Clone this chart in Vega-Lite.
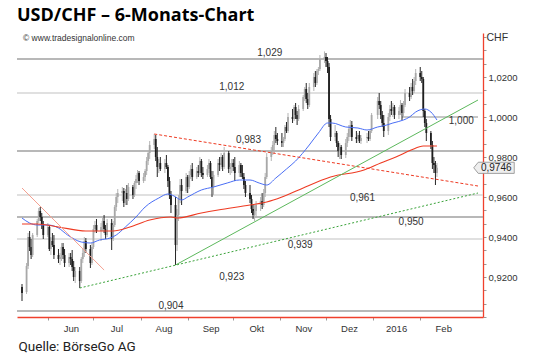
{
  "$schema": "https://vega.github.io/schema/vega-lite/v6.json",
  "width": 466,
  "height": 284,
  "autosize": "none",
  "padding": {"left": 17, "top": 33, "right": 57, "bottom": 43},
  "background": "white",
  "config": {
    "view": {"stroke": null},
    "locale": {"number": {"decimal": ",", "thousands": ".", "grouping": [3], "currency": ["", " €"]}}
  },
  "title": {"text": "USD/CHF – 6-Monats-Chart", "anchor": "start", "frame": "group", "font": "Open Sans", "fontSize": 18, "fontWeight": "bold", "color": "#000000", "offset": 7},
  "datasets": {
    "kerzen": [
      {"d":"2015-05-15","o":0.9150,"h":0.9165,"l":0.9080,"c":0.9120},
      {"d":"2015-05-18","o":0.9125,"h":0.9270,"l":0.9115,"c":0.9255},
      {"d":"2015-05-19","o":0.9255,"h":0.9420,"l":0.9240,"c":0.9400},
      {"d":"2015-05-20","o":0.9400,"h":0.9430,"l":0.9330,"c":0.9350},
      {"d":"2015-05-21","o":0.9350,"h":0.9390,"l":0.9290,"c":0.9310},
      {"d":"2015-05-22","o":0.9310,"h":0.9420,"l":0.9300,"c":0.9410},
      {"d":"2015-05-25","o":0.9410,"h":0.9490,"l":0.9400,"c":0.9480},
      {"d":"2015-05-26","o":0.9480,"h":0.9545,"l":0.9470,"c":0.9530},
      {"d":"2015-05-27","o":0.9530,"h":0.9550,"l":0.9480,"c":0.9500},
      {"d":"2015-05-28","o":0.9500,"h":0.9520,"l":0.9440,"c":0.9460},
      {"d":"2015-05-29","o":0.9460,"h":0.9480,"l":0.9390,"c":0.9410},
      {"d":"2015-06-01","o":0.9410,"h":0.9470,"l":0.9400,"c":0.9450},
      {"d":"2015-06-02","o":0.9450,"h":0.9460,"l":0.9330,"c":0.9340},
      {"d":"2015-06-03","o":0.9340,"h":0.9400,"l":0.9310,"c":0.9380},
      {"d":"2015-06-04","o":0.9380,"h":0.9420,"l":0.9350,"c":0.9360},
      {"d":"2015-06-05","o":0.9360,"h":0.9410,"l":0.9290,"c":0.9310},
      {"d":"2015-06-08","o":0.9310,"h":0.9340,"l":0.9270,"c":0.9290},
      {"d":"2015-06-09","o":0.9290,"h":0.9320,"l":0.9260,"c":0.9300},
      {"d":"2015-06-10","o":0.9300,"h":0.9370,"l":0.9280,"c":0.9350},
      {"d":"2015-06-11","o":0.9350,"h":0.9370,"l":0.9290,"c":0.9310},
      {"d":"2015-06-12","o":0.9310,"h":0.9340,"l":0.9250,"c":0.9270},
      {"d":"2015-06-15","o":0.9270,"h":0.9320,"l":0.9250,"c":0.9300},
      {"d":"2015-06-16","o":0.9300,"h":0.9320,"l":0.9260,"c":0.9290},
      {"d":"2015-06-17","o":0.9290,"h":0.9335,"l":0.9230,"c":0.9250},
      {"d":"2015-06-18","o":0.9250,"h":0.9280,"l":0.9180,"c":0.9200},
      {"d":"2015-06-19","o":0.9200,"h":0.9250,"l":0.9170,"c":0.9230},
      {"d":"2015-06-22","o":0.9230,"h":0.9250,"l":0.9145,"c":0.9180},
      {"d":"2015-06-23","o":0.9180,"h":0.9300,"l":0.9170,"c":0.9290},
      {"d":"2015-06-24","o":0.9290,"h":0.9340,"l":0.9270,"c":0.9320},
      {"d":"2015-06-25","o":0.9320,"h":0.9400,"l":0.9300,"c":0.9380},
      {"d":"2015-06-26","o":0.9380,"h":0.9395,"l":0.9320,"c":0.9340},
      {"d":"2015-06-29","o":0.9340,"h":0.9360,"l":0.9245,"c":0.9270},
      {"d":"2015-06-30","o":0.9270,"h":0.9370,"l":0.9260,"c":0.9350},
      {"d":"2015-07-01","o":0.9350,"h":0.9460,"l":0.9340,"c":0.9440},
      {"d":"2015-07-02","o":0.9440,"h":0.9480,"l":0.9420,"c":0.9460},
      {"d":"2015-07-03","o":0.9460,"h":0.9490,"l":0.9420,"c":0.9430},
      {"d":"2015-07-06","o":0.9430,"h":0.9470,"l":0.9380,"c":0.9450},
      {"d":"2015-07-07","o":0.9450,"h":0.9495,"l":0.9430,"c":0.9480},
      {"d":"2015-07-08","o":0.9480,"h":0.9510,"l":0.9420,"c":0.9440},
      {"d":"2015-07-09","o":0.9440,"h":0.9460,"l":0.9390,"c":0.9410},
      {"d":"2015-07-10","o":0.9410,"h":0.9490,"l":0.9400,"c":0.9470},
      {"d":"2015-07-13","o":0.9470,"h":0.9490,"l":0.9335,"c":0.9390},
      {"d":"2015-07-14","o":0.9390,"h":0.9480,"l":0.9380,"c":0.9460},
      {"d":"2015-07-15","o":0.9460,"h":0.9560,"l":0.9450,"c":0.9550},
      {"d":"2015-07-16","o":0.9550,"h":0.9620,"l":0.9530,"c":0.9600},
      {"d":"2015-07-17","o":0.9600,"h":0.9640,"l":0.9570,"c":0.9620},
      {"d":"2015-07-20","o":0.9620,"h":0.9650,"l":0.9580,"c":0.9630},
      {"d":"2015-07-21","o":0.9630,"h":0.9645,"l":0.9550,"c":0.9570},
      {"d":"2015-07-22","o":0.9570,"h":0.9640,"l":0.9560,"c":0.9620},
      {"d":"2015-07-23","o":0.9620,"h":0.9660,"l":0.9560,"c":0.9590},
      {"d":"2015-07-24","o":0.9590,"h":0.9670,"l":0.9580,"c":0.9650},
      {"d":"2015-07-27","o":0.9650,"h":0.9660,"l":0.9590,"c":0.9610},
      {"d":"2015-07-28","o":0.9610,"h":0.9680,"l":0.9600,"c":0.9670},
      {"d":"2015-07-29","o":0.9670,"h":0.9710,"l":0.9640,"c":0.9690},
      {"d":"2015-07-30","o":0.9690,"h":0.9735,"l":0.9670,"c":0.9720},
      {"d":"2015-07-31","o":0.9720,"h":0.9730,"l":0.9660,"c":0.9680},
      {"d":"2015-08-03","o":0.9680,"h":0.9720,"l":0.9670,"c":0.9700},
      {"d":"2015-08-04","o":0.9700,"h":0.9740,"l":0.9680,"c":0.9730},
      {"d":"2015-08-05","o":0.9730,"h":0.9800,"l":0.9710,"c":0.9780},
      {"d":"2015-08-06","o":0.9780,"h":0.9830,"l":0.9760,"c":0.9820},
      {"d":"2015-08-07","o":0.9820,"h":0.9880,"l":0.9790,"c":0.9860},
      {"d":"2015-08-10","o":0.9860,"h":0.9915,"l":0.9840,"c":0.9890},
      {"d":"2015-08-11","o":0.9890,"h":0.9910,"l":0.9780,"c":0.9800},
      {"d":"2015-08-12","o":0.9800,"h":0.9850,"l":0.9700,"c":0.9750},
      {"d":"2015-08-13","o":0.9750,"h":0.9790,"l":0.9720,"c":0.9770},
      {"d":"2015-08-14","o":0.9770,"h":0.9800,"l":0.9730,"c":0.9740},
      {"d":"2015-08-17","o":0.9740,"h":0.9790,"l":0.9720,"c":0.9770},
      {"d":"2015-08-18","o":0.9770,"h":0.9810,"l":0.9740,"c":0.9750},
      {"d":"2015-08-19","o":0.9750,"h":0.9760,"l":0.9650,"c":0.9680},
      {"d":"2015-08-20","o":0.9680,"h":0.9700,"l":0.9590,"c":0.9610},
      {"d":"2015-08-21","o":0.9610,"h":0.9630,"l":0.9520,"c":0.9560},
      {"d":"2015-08-24","o":0.9560,"h":0.9600,"l":0.9260,"c":0.9360},
      {"d":"2015-08-25","o":0.9360,"h":0.9540,"l":0.9330,"c":0.9510},
      {"d":"2015-08-26","o":0.9510,"h":0.9610,"l":0.9480,"c":0.9590},
      {"d":"2015-08-27","o":0.9590,"h":0.9690,"l":0.9570,"c":0.9660},
      {"d":"2015-08-28","o":0.9660,"h":0.9690,"l":0.9560,"c":0.9630},
      {"d":"2015-08-31","o":0.9630,"h":0.9720,"l":0.9620,"c":0.9700},
      {"d":"2015-09-01","o":0.9700,"h":0.9710,"l":0.9620,"c":0.9650},
      {"d":"2015-09-02","o":0.9650,"h":0.9730,"l":0.9640,"c":0.9710},
      {"d":"2015-09-03","o":0.9710,"h":0.9760,"l":0.9690,"c":0.9740},
      {"d":"2015-09-04","o":0.9740,"h":0.9770,"l":0.9680,"c":0.9700},
      {"d":"2015-09-07","o":0.9700,"h":0.9750,"l":0.9690,"c":0.9730},
      {"d":"2015-09-08","o":0.9730,"h":0.9760,"l":0.9700,"c":0.9720},
      {"d":"2015-09-09","o":0.9720,"h":0.9800,"l":0.9710,"c":0.9780},
      {"d":"2015-09-10","o":0.9780,"h":0.9790,"l":0.9700,"c":0.9720},
      {"d":"2015-09-11","o":0.9720,"h":0.9750,"l":0.9690,"c":0.9710},
      {"d":"2015-09-14","o":0.9710,"h":0.9760,"l":0.9700,"c":0.9740},
      {"d":"2015-09-15","o":0.9740,"h":0.9790,"l":0.9720,"c":0.9770},
      {"d":"2015-09-16","o":0.9770,"h":0.9780,"l":0.9690,"c":0.9700},
      {"d":"2015-09-17","o":0.9700,"h":0.9730,"l":0.9600,"c":0.9650},
      {"d":"2015-09-18","o":0.9650,"h":0.9730,"l":0.9610,"c":0.9710},
      {"d":"2015-09-21","o":0.9710,"h":0.9790,"l":0.9700,"c":0.9770},
      {"d":"2015-09-22","o":0.9770,"h":0.9800,"l":0.9730,"c":0.9760},
      {"d":"2015-09-23","o":0.9760,"h":0.9820,"l":0.9740,"c":0.9800},
      {"d":"2015-09-24","o":0.9800,"h":0.9810,"l":0.9730,"c":0.9750},
      {"d":"2015-09-25","o":0.9750,"h":0.9850,"l":0.9740,"c":0.9820},
      {"d":"2015-09-28","o":0.9820,"h":0.9830,"l":0.9720,"c":0.9740},
      {"d":"2015-09-29","o":0.9740,"h":0.9770,"l":0.9710,"c":0.9750},
      {"d":"2015-09-30","o":0.9750,"h":0.9790,"l":0.9720,"c":0.9770},
      {"d":"2015-10-01","o":0.9770,"h":0.9790,"l":0.9730,"c":0.9750},
      {"d":"2015-10-02","o":0.9750,"h":0.9800,"l":0.9680,"c":0.9720},
      {"d":"2015-10-05","o":0.9720,"h":0.9780,"l":0.9700,"c":0.9760},
      {"d":"2015-10-06","o":0.9760,"h":0.9770,"l":0.9700,"c":0.9720},
      {"d":"2015-10-07","o":0.9720,"h":0.9760,"l":0.9690,"c":0.9700},
      {"d":"2015-10-08","o":0.9700,"h":0.9720,"l":0.9640,"c":0.9660},
      {"d":"2015-10-09","o":0.9660,"h":0.9680,"l":0.9600,"c":0.9620},
      {"d":"2015-10-12","o":0.9620,"h":0.9660,"l":0.9570,"c":0.9590},
      {"d":"2015-10-13","o":0.9590,"h":0.9610,"l":0.9520,"c":0.9540},
      {"d":"2015-10-14","o":0.9540,"h":0.9560,"l":0.9490,"c":0.9510},
      {"d":"2015-10-15","o":0.9510,"h":0.9560,"l":0.9480,"c":0.9530},
      {"d":"2015-10-16","o":0.9530,"h":0.9580,"l":0.9500,"c":0.9560},
      {"d":"2015-10-19","o":0.9560,"h":0.9600,"l":0.9530,"c":0.9580},
      {"d":"2015-10-20","o":0.9580,"h":0.9620,"l":0.9540,"c":0.9560},
      {"d":"2015-10-21","o":0.9560,"h":0.9640,"l":0.9550,"c":0.9620},
      {"d":"2015-10-22","o":0.9620,"h":0.9720,"l":0.9600,"c":0.9700},
      {"d":"2015-10-23","o":0.9700,"h":0.9820,"l":0.9690,"c":0.9800},
      {"d":"2015-10-26","o":0.9800,"h":0.9850,"l":0.9780,"c":0.9830},
      {"d":"2015-10-27","o":0.9830,"h":0.9880,"l":0.9810,"c":0.9860},
      {"d":"2015-10-28","o":0.9860,"h":0.9930,"l":0.9820,"c":0.9910},
      {"d":"2015-10-29","o":0.9910,"h":0.9950,"l":0.9870,"c":0.9890},
      {"d":"2015-10-30","o":0.9890,"h":0.9920,"l":0.9860,"c":0.9880},
      {"d":"2015-11-02","o":0.9880,"h":0.9920,"l":0.9850,"c":0.9870},
      {"d":"2015-11-03","o":0.9870,"h":0.9900,"l":0.9850,"c":0.9890},
      {"d":"2015-11-04","o":0.9890,"h":0.9960,"l":0.9880,"c":0.9950},
      {"d":"2015-11-05","o":0.9950,"h":0.9975,"l":0.9920,"c":0.9930},
      {"d":"2015-11-06","o":0.9930,"h":1.0020,"l":0.9920,"c":1.0000},
      {"d":"2015-11-09","o":1.0000,"h":1.0040,"l":0.9970,"c":0.9990},
      {"d":"2015-11-10","o":0.9990,"h":1.0060,"l":0.9980,"c":1.0050},
      {"d":"2015-11-11","o":1.0050,"h":1.0070,"l":0.9990,"c":1.0010},
      {"d":"2015-11-12","o":1.0010,"h":1.0030,"l":0.9960,"c":0.9990},
      {"d":"2015-11-13","o":0.9990,"h":1.0060,"l":0.9980,"c":1.0040},
      {"d":"2015-11-16","o":1.0040,"h":1.0110,"l":1.0030,"c":1.0100},
      {"d":"2015-11-17","o":1.0100,"h":1.0150,"l":1.0080,"c":1.0140},
      {"d":"2015-11-18","o":1.0140,"h":1.0170,"l":1.0070,"c":1.0090},
      {"d":"2015-11-19","o":1.0090,"h":1.0120,"l":1.0040,"c":1.0060},
      {"d":"2015-11-20","o":1.0060,"h":1.0170,"l":1.0050,"c":1.0150},
      {"d":"2015-11-23","o":1.0150,"h":1.0220,"l":1.0130,"c":1.0200},
      {"d":"2015-11-24","o":1.0200,"h":1.0230,"l":1.0150,"c":1.0170},
      {"d":"2015-11-25","o":1.0170,"h":1.0240,"l":1.0160,"c":1.0230},
      {"d":"2015-11-26","o":1.0230,"h":1.0250,"l":1.0210,"c":1.0240},
      {"d":"2015-11-27","o":1.0240,"h":1.0310,"l":1.0230,"c":1.0290},
      {"d":"2015-11-30","o":1.0290,"h":1.0328,"l":1.0270,"c":1.0300},
      {"d":"2015-12-01","o":1.0300,"h":1.0320,"l":1.0250,"c":1.0280},
      {"d":"2015-12-02","o":1.0280,"h":1.0300,"l":1.0220,"c":1.0250},
      {"d":"2015-12-03","o":1.0250,"h":1.0270,"l":0.9950,"c":0.9990},
      {"d":"2015-12-04","o":0.9990,"h":1.0010,"l":0.9880,"c":0.9900},
      {"d":"2015-12-07","o":0.9900,"h":0.9960,"l":0.9880,"c":0.9920},
      {"d":"2015-12-08","o":0.9920,"h":0.9930,"l":0.9850,"c":0.9870},
      {"d":"2015-12-09","o":0.9870,"h":0.9880,"l":0.9800,"c":0.9830},
      {"d":"2015-12-10","o":0.9830,"h":0.9870,"l":0.9790,"c":0.9850},
      {"d":"2015-12-11","o":0.9850,"h":0.9860,"l":0.9790,"c":0.9810},
      {"d":"2015-12-14","o":0.9810,"h":0.9890,"l":0.9795,"c":0.9870},
      {"d":"2015-12-15","o":0.9870,"h":0.9920,"l":0.9850,"c":0.9900},
      {"d":"2015-12-16","o":0.9900,"h":0.9960,"l":0.9880,"c":0.9940},
      {"d":"2015-12-17","o":0.9940,"h":0.9985,"l":0.9900,"c":0.9960},
      {"d":"2015-12-18","o":0.9960,"h":0.9980,"l":0.9880,"c":0.9900},
      {"d":"2015-12-21","o":0.9900,"h":0.9930,"l":0.9870,"c":0.9890},
      {"d":"2015-12-22","o":0.9890,"h":0.9920,"l":0.9870,"c":0.9910},
      {"d":"2015-12-23","o":0.9910,"h":0.9930,"l":0.9870,"c":0.9880},
      {"d":"2015-12-24","o":0.9880,"h":0.9910,"l":0.9865,"c":0.9895},
      {"d":"2015-12-28","o":0.9895,"h":0.9920,"l":0.9870,"c":0.9900},
      {"d":"2015-12-29","o":0.9900,"h":0.9930,"l":0.9880,"c":0.9890},
      {"d":"2015-12-30","o":0.9890,"h":0.9940,"l":0.9880,"c":0.9930},
      {"d":"2015-12-31","o":0.9930,"h":1.0020,"l":0.9920,"c":1.0010},
      {"d":"2016-01-04","o":1.0010,"h":1.0100,"l":0.9990,"c":1.0080},
      {"d":"2016-01-05","o":1.0080,"h":1.0120,"l":1.0040,"c":1.0060},
      {"d":"2016-01-06","o":1.0060,"h":1.0080,"l":0.9990,"c":1.0010},
      {"d":"2016-01-07","o":1.0010,"h":1.0030,"l":0.9950,"c":0.9970},
      {"d":"2016-01-08","o":0.9970,"h":1.0010,"l":0.9900,"c":0.9930},
      {"d":"2016-01-11","o":0.9930,"h":1.0020,"l":0.9910,"c":1.0000},
      {"d":"2016-01-12","o":1.0000,"h":1.0060,"l":0.9980,"c":1.0040},
      {"d":"2016-01-13","o":1.0040,"h":1.0080,"l":1.0010,"c":1.0030},
      {"d":"2016-01-14","o":1.0030,"h":1.0070,"l":1.0000,"c":1.0050},
      {"d":"2016-01-15","o":1.0050,"h":1.0060,"l":0.9990,"c":1.0010},
      {"d":"2016-01-18","o":1.0010,"h":1.0050,"l":0.9990,"c":1.0030},
      {"d":"2016-01-19","o":1.0030,"h":1.0085,"l":1.0010,"c":1.0060},
      {"d":"2016-01-20","o":1.0060,"h":1.0070,"l":0.9985,"c":1.0020},
      {"d":"2016-01-21","o":1.0020,"h":1.0080,"l":1.0000,"c":1.0060},
      {"d":"2016-01-22","o":1.0060,"h":1.0140,"l":1.0050,"c":1.0120},
      {"d":"2016-01-25","o":1.0120,"h":1.0150,"l":1.0080,"c":1.0100},
      {"d":"2016-01-26","o":1.0100,"h":1.0170,"l":1.0090,"c":1.0150},
      {"d":"2016-01-27","o":1.0150,"h":1.0190,"l":1.0110,"c":1.0130},
      {"d":"2016-01-28","o":1.0130,"h":1.0200,"l":1.0120,"c":1.0180},
      {"d":"2016-01-29","o":1.0180,"h":1.0240,"l":1.0160,"c":1.0220},
      {"d":"2016-02-01","o":1.0220,"h":1.0250,"l":1.0180,"c":1.0200},
      {"d":"2016-02-02","o":1.0200,"h":1.0230,"l":1.0170,"c":1.0190},
      {"d":"2016-02-03","o":1.0190,"h":1.0200,"l":1.0000,"c":1.0030},
      {"d":"2016-02-04","o":1.0030,"h":1.0040,"l":0.9950,"c":0.9970},
      {"d":"2016-02-05","o":0.9970,"h":0.9990,"l":0.9880,"c":0.9920},
      {"d":"2016-02-08","o":0.9920,"h":0.9930,"l":0.9840,"c":0.9860},
      {"d":"2016-02-09","o":0.9860,"h":0.9880,"l":0.9740,"c":0.9770},
      {"d":"2016-02-10","o":0.9770,"h":0.9800,"l":0.9720,"c":0.9760},
      {"d":"2016-02-11","o":0.9760,"h":0.9780,"l":0.9660,"c":0.9720},
      {"d":"2016-02-12","o":0.9720,"h":0.9770,"l":0.9700,"c":0.9746}
    ],
    "durchschnitte": [
      {"ma":"blau","d":"2015-05-15","v":0.9495},{"ma":"blau","d":"2015-05-20","v":0.9470},
      {"ma":"blau","d":"2015-05-25","v":0.9460},{"ma":"blau","d":"2015-06-01","v":0.9460},
      {"ma":"blau","d":"2015-06-08","v":0.9445},{"ma":"blau","d":"2015-06-14","v":0.9410},
      {"ma":"blau","d":"2015-06-23","v":0.9375},{"ma":"blau","d":"2015-06-29","v":0.9370},
      {"ma":"blau","d":"2015-07-05","v":0.9385},{"ma":"blau","d":"2015-07-12","v":0.9395},
      {"ma":"blau","d":"2015-07-16","v":0.9410},{"ma":"blau","d":"2015-07-22","v":0.9450},
      {"ma":"blau","d":"2015-07-29","v":0.9500},{"ma":"blau","d":"2015-08-04","v":0.9550},
      {"ma":"blau","d":"2015-08-13","v":0.9595},{"ma":"blau","d":"2015-08-19","v":0.9615},
      {"ma":"blau","d":"2015-08-23","v":0.9605},{"ma":"blau","d":"2015-08-28","v":0.9585},
      {"ma":"blau","d":"2015-09-01","v":0.9600},{"ma":"blau","d":"2015-09-10","v":0.9635},
      {"ma":"blau","d":"2015-09-18","v":0.9650},{"ma":"blau","d":"2015-09-27","v":0.9670},
      {"ma":"blau","d":"2015-10-05","v":0.9685},{"ma":"blau","d":"2015-10-12","v":0.9685},
      {"ma":"blau","d":"2015-10-18","v":0.9670},{"ma":"blau","d":"2015-10-23","v":0.9660},
      {"ma":"blau","d":"2015-10-29","v":0.9695},{"ma":"blau","d":"2015-11-05","v":0.9740},
      {"ma":"blau","d":"2015-11-11","v":0.9780},{"ma":"blau","d":"2015-11-20","v":0.9860},
      {"ma":"blau","d":"2015-11-26","v":0.9920},{"ma":"blau","d":"2015-12-02","v":0.9970},
      {"ma":"blau","d":"2015-12-05","v":0.9970},{"ma":"blau","d":"2015-12-14","v":0.9950},
      {"ma":"blau","d":"2015-12-22","v":0.9945},{"ma":"blau","d":"2015-12-28","v":0.9935},
      {"ma":"blau","d":"2016-01-04","v":0.9950},{"ma":"blau","d":"2016-01-10","v":0.9960},
      {"ma":"blau","d":"2016-01-14","v":0.9970},{"ma":"blau","d":"2016-01-21","v":0.9985},
      {"ma":"blau","d":"2016-01-25","v":1.0000},{"ma":"blau","d":"2016-01-29","v":1.0025},
      {"ma":"blau","d":"2016-02-04","v":1.0040},{"ma":"blau","d":"2016-02-08","v":1.0025},
      {"ma":"blau","d":"2016-02-12","v":0.9985},
      {"ma":"rot","d":"2015-05-15","v":0.9465},{"ma":"rot","d":"2015-05-25","v":0.9465},
      {"ma":"rot","d":"2015-06-08","v":0.9450},{"ma":"rot","d":"2015-06-26","v":0.9430},
      {"ma":"rot","d":"2015-07-14","v":0.9430},{"ma":"rot","d":"2015-07-25","v":0.9450},
      {"ma":"rot","d":"2015-08-07","v":0.9485},{"ma":"rot","d":"2015-08-21","v":0.9500},
      {"ma":"rot","d":"2015-08-25","v":0.9495},{"ma":"rot","d":"2015-09-10","v":0.9520},
      {"ma":"rot","d":"2015-09-21","v":0.9535},{"ma":"rot","d":"2015-10-12","v":0.9560},
      {"ma":"rot","d":"2015-10-23","v":0.9575},{"ma":"rot","d":"2015-11-02","v":0.9600},
      {"ma":"rot","d":"2015-11-13","v":0.9635},{"ma":"rot","d":"2015-12-04","v":0.9700},
      {"ma":"rot","d":"2015-12-26","v":0.9735},{"ma":"rot","d":"2016-01-06","v":0.9770},
      {"ma":"rot","d":"2016-01-16","v":0.9800},{"ma":"rot","d":"2016-01-26","v":0.9835},
      {"ma":"rot","d":"2016-02-03","v":0.9855},{"ma":"rot","d":"2016-02-12","v":0.9855}
    ],
    "trends": [
      {"linie":"rot1","d":"2015-05-15","v":0.9645},{"linie":"rot1","d":"2015-07-08","v":0.9235},
      {"linie":"rot2","d":"2015-08-10","v":0.9915},{"linie":"rot2","d":"2016-03-10","v":0.9655},
      {"linie":"gruen1","d":"2015-06-22","v":0.9145},{"linie":"gruen1","d":"2016-03-10","v":0.9620},
      {"linie":"gruen2","d":"2015-08-24","v":0.9260},{"linie":"gruen2","d":"2016-03-10","v":1.0085}
    ],
    "niveaus": [
      {"level":1.029,"art":"stark"},{"level":1.012,"art":"schwach"},
      {"level":0.983,"art":"stark"},{"level":0.961,"art":"schwach"},
      {"level":0.950,"art":"stark"},{"level":0.939,"art":"schwach"},
      {"level":0.903,"art":"stark"}
    ],
    "marken": [
      {"d":"2015-10-25","v":1.0320,"t":"1,029"},
      {"d":"2015-09-30","v":1.0148,"t":"1,012"},
      {"d":"2016-02-28","v":0.9978,"t":"1,000"},
      {"d":"2015-10-11","v":0.9885,"t":"0,983"},
      {"d":"2015-12-25","v":0.9593,"t":"0,961"},
      {"d":"2016-01-26","v":0.9475,"t":"0,950"},
      {"d":"2015-11-14","v":0.9358,"t":"0,939"},
      {"d":"2015-09-30","v":0.9200,"t":"0,923"},
      {"d":"2015-08-21","v":0.9055,"t":"0,904"}
    ]
  },
  "encoding": {
    "x": {
      "field": "d", "type": "temporal",
      "scale": {"type": "utc", "domain": [{"year": 2015, "month": 5, "date": 15, "utc": true}, {"year": 2016, "month": 3, "date": 10, "utc": true}]},
      "axis": {
        "values": [
          {"year": 2015, "month": 6, "date": 1, "utc": true},
          {"year": 2015, "month": 7, "date": 1, "utc": true},
          {"year": 2015, "month": 8, "date": 1, "utc": true},
          {"year": 2015, "month": 9, "date": 1, "utc": true},
          {"year": 2015, "month": 10, "date": 1, "utc": true},
          {"year": 2015, "month": 11, "date": 1, "utc": true},
          {"year": 2015, "month": 12, "date": 1, "utc": true},
          {"year": 2016, "month": 1, "date": 1, "utc": true},
          {"year": 2016, "month": 2, "date": 1, "utc": true}
        ],
        "labelExpr": "utcmonth(datum.value) == 0 ? '' + utcyear(datum.value) : ['Jan','Feb','Mär','Apr','Mai','Jun','Jul','Aug','Sep','Okt','Nov','Dez'][utcmonth(datum.value)]",
        "grid": false,
        "domainColor": "#f0402c", "domainWidth": 1.3,
        "tickColor": "#999999", "tickSize": 3,
        "labelFont": "Liberation Sans", "labelFontSize": 9.5, "labelColor": "#333333",
        "labelOffset": 23, "labelPadding": 3, "labelFlush": false, "labelOverlap": false,
        "title": "Quelle: BörseGo AG",
        "titleFont": "Roboto", "titleFontSize": 13.5, "titleFontWeight": "normal", "titleColor": "#222222",
        "titleAnchor": "start", "titleAlign": "left", "titleBaseline": "alphabetic", "titleX": 1, "titleY": 33
      }
    },
    "y": {
      "type": "quantitative",
      "scale": {"domain": [0.9, 1.042], "zero": false, "nice": false},
      "axis": {
        "orient": "right",
        "values": [0.9, 0.90667, 0.91333, 0.92, 0.92667, 0.93333, 0.94, 0.94667, 0.95333, 0.96, 0.96667, 0.97333, 0.98, 0.98667, 0.99333, 1.0, 1.00667, 1.01333, 1.02, 1.02667, 1.03333, 1.04],
        "labelExpr": "(abs(datum.value * 50 - round(datum.value * 50)) < 0.01 && datum.value > 0.91 && datum.value < 1.03) ? format(datum.value, '.4f') : ''",
        "grid": false,
        "domainColor": "#f0402c", "domainWidth": 1.3,
        "tickColor": "#999999", "tickSize": 3,
        "labelFont": "Liberation Sans", "labelFontSize": 9.5, "labelColor": "#333333", "labelPadding": 2,
        "labelFlush": false, "labelOverlap": false,
        "title": "CHF", "titleAngle": 0, "titleAlign": "left", "titleBaseline": "top",
        "titleX": 3, "titleY": -1, "titleFont": "Liberation Sans", "titleFontSize": 10.5, "titleFontWeight": "normal", "titleColor": "#333333"
      }
    }
  },
  "layer": [
    {
      "data": {"name": "niveaus"},
      "transform": [{"filter": "datum.art == 'stark'"}],
      "mark": {"type": "rule", "color": "#a0a0a0", "strokeWidth": 1.4},
      "encoding": {"y": {"field": "level", "type": "quantitative"}, "x": null}
    },
    {
      "data": {"name": "niveaus"},
      "transform": [{"filter": "datum.art == 'schwach'"}],
      "mark": {"type": "rule", "color": "#d6d6d6", "strokeWidth": 1.3},
      "encoding": {"y": {"field": "level", "type": "quantitative"}, "x": null}
    },
    {
      "data": {"values": [{"d": "2016-01-20", "d2": "2016-03-10", "level": 1.0}]},
      "mark": {"type": "rule", "color": "#b4b4b4", "strokeWidth": 1.3},
      "encoding": {"y": {"field": "level", "type": "quantitative"}, "x2": {"field": "d2"}}
    },
    {
      "data": {"name": "kerzen"},
      "mark": {"type": "rule", "strokeWidth": 1, "clip": true},
      "encoding": {
        "y": {"field": "l", "type": "quantitative"},
        "y2": {"field": "h"},
        "color": {"condition": {"test": "datum.c >= datum.o", "value": "#b4b4b4"}, "value": "#262626"}
      }
    },
    {
      "data": {"name": "kerzen"},
      "mark": {"type": "bar", "width": 1.8, "clip": true},
      "encoding": {
        "y": {"field": "o", "type": "quantitative"},
        "y2": {"field": "c"},
        "color": {"condition": {"test": "datum.c >= datum.o", "value": "#a8a8a8"}, "value": "#1e1e1e"}
      }
    },
    {
      "data": {"name": "durchschnitte"},
      "transform": [{"filter": "datum.ma == 'blau'"}],
      "mark": {"type": "line", "color": "#4a6ef5", "strokeWidth": 1, "clip": true, "interpolate": "monotone"},
      "encoding": {"y": {"field": "v", "type": "quantitative"}}
    },
    {
      "data": {"name": "durchschnitte"},
      "transform": [{"filter": "datum.ma == 'rot'"}],
      "mark": {"type": "line", "color": "#ee3a22", "strokeWidth": 1.1, "clip": true, "interpolate": "monotone"},
      "encoding": {"y": {"field": "v", "type": "quantitative"}}
    },
    {
      "data": {"name": "trends"},
      "transform": [{"filter": "datum.linie == 'rot1'"}],
      "mark": {"type": "line", "color": "#f4a090", "strokeWidth": 1, "clip": true},
      "encoding": {"y": {"field": "v", "type": "quantitative"}}
    },
    {
      "data": {"name": "trends"},
      "transform": [{"filter": "datum.linie == 'rot2'"}],
      "mark": {"type": "line", "color": "#ee3a22", "strokeWidth": 1, "strokeDash": [3, 2], "clip": true},
      "encoding": {"y": {"field": "v", "type": "quantitative"}}
    },
    {
      "data": {"name": "trends"},
      "transform": [{"filter": "datum.linie == 'gruen1'"}],
      "mark": {"type": "line", "color": "#3aa33a", "strokeWidth": 1, "strokeDash": [2, 2], "clip": true},
      "encoding": {"y": {"field": "v", "type": "quantitative"}}
    },
    {
      "data": {"name": "trends"},
      "transform": [{"filter": "datum.linie == 'gruen2'"}],
      "mark": {"type": "line", "color": "#5cb85c", "strokeWidth": 1, "clip": true},
      "encoding": {"y": {"field": "v", "type": "quantitative"}}
    },
    {
      "data": {"name": "marken"},
      "mark": {"type": "text", "font": "Liberation Sans", "fontSize": 10, "color": "#333333", "align": "center", "baseline": "middle"},
      "encoding": {"y": {"field": "v", "type": "quantitative"}, "text": {"field": "t"}}
    },
    {
      "data": {"values": [{"d": "2015-05-15", "v": 1.0395, "t": "© www.tradesignalonline.com"}]},
      "mark": {"type": "text", "font": "Liberation Sans", "fontSize": 8.5, "color": "#333333", "align": "left", "baseline": "middle", "dx": 1},
      "encoding": {"y": {"field": "v", "type": "quantitative"}, "text": {"field": "t"}}
    },
    {
      "data": {"values": [{"d": "2016-03-22", "v": 0.9746, "t": "0,9746"}]},
      "mark": {"type": "point", "shape": "M-1.25,0L-1,-0.31L1,-0.31L1,0.31L-1,0.31Z", "size": 1296, "filled": true, "fill": "#eeeeee", "stroke": "#8a8a8a", "strokeWidth": 0.8, "opacity": 1},
      "encoding": {"y": {"field": "v", "type": "quantitative"}}
    },
    {
      "data": {"values": [{"d": "2016-03-22", "v": 0.9746, "t": "0,9746"}]},
      "mark": {"type": "text", "font": "Liberation Sans", "fontSize": 10, "color": "#222222", "align": "center", "baseline": "middle"},
      "encoding": {"y": {"field": "v", "type": "quantitative"}, "text": {"field": "t"}}
    }
  ]
}
